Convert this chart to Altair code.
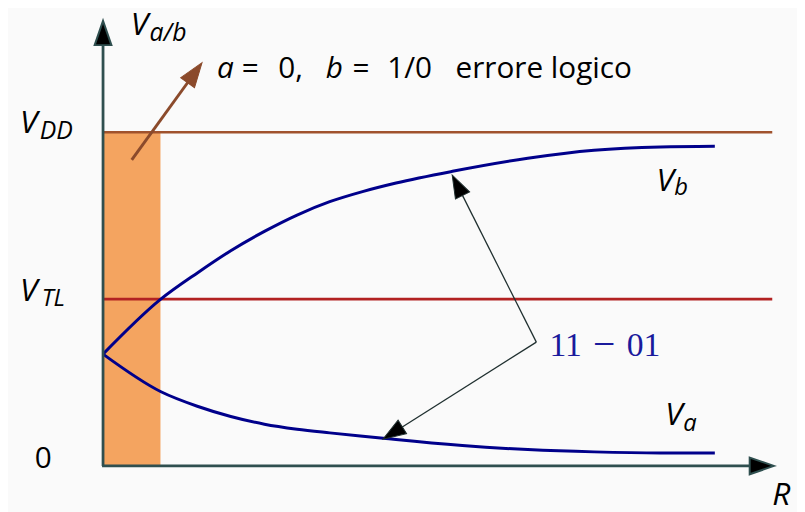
import math
import altair as alt
import pandas as pd

# ---------------- data ----------------
VDD = 1.0
VTL = 0.5
R_TL = 0.58          # R where V_b crosses V_TL (edge of the error band)
R_LINE_END = 6.76    # end of the V_DD / V_TL reference lines

R_b = [0, 0.58, 0.96, 1.29, 1.63, 1.96, 2.29, 2.63, 2.96, 3.53, 4.29, 4.96, 5.63, 6.18]
V_b = [0.335, 0.499, 0.580, 0.645, 0.703, 0.752, 0.792, 0.823, 0.848, 0.883, 0.922, 0.946, 0.956, 0.958]
R_a = [0, 0.58, 0.96, 1.29, 1.63, 1.96, 2.29, 2.83, 2.96, 3.63, 4.29, 4.96, 5.63, 6.18]
V_a = [0.335, 0.223, 0.178, 0.148, 0.125, 0.110, 0.099, 0.083, 0.079, 0.061, 0.049, 0.042, 0.039, 0.039]

# annotation anchors (data units)
ARROW_SRC = (4.377, 0.371)          # where the "11 - 01" arrows start
ARROW_TIP_B = (3.527, 0.872)
ARROW_TIP_A = (2.827, 0.080)
BROWN_SRC = (0.29, 0.917)
BROWN_TIP = (1.00, 1.2086)
Y_AXIS_TOP = 1.334
X_AXIS_END = 6.777

italic_labels = [
    ("V", 0.28, 1.291, 32), ("a/b", 0.47, 1.273, 25),
    ("V", -0.84, 0.997, 32), ("DD", -0.64, 0.979, 25),
    ("V", -0.84, 0.493, 32), ("TL", -0.62, 0.479, 24),
    ("V", 5.59, 0.825, 32), ("b", 5.77, 0.811, 24),
    ("V", 5.68, 0.122, 32), ("a", 5.86, 0.106, 24),
    ("R", 6.76, -0.116, 32),
    ("a", 1.15, 1.163, 30), ("b", 2.25, 1.163, 30),
]
regular_labels = [
    ("0", -0.69, -0.006, 30),
    ("=", 1.40, 1.163, 30), ("0,", 1.77, 1.163, 30),
    ("=", 2.52, 1.163, 30), ("1/0", 2.87, 1.163, 30),
    ("errore logico", 3.56, 1.163, 30),
]
serif_labels = [
    ("11", 4.51, 0.329, 34), ("\u2212", 4.95, 0.325, 40), ("01", 5.29, 0.329, 34),
]

# ---------------- scales ----------------
W, H = 797, 504
XD = [-0.96, 7.01]
YD = [-0.1306, 1.365]
PX = W / (XD[1] - XD[0])
PY = H / (YD[1] - YD[0])
xs = alt.Scale(domain=XD, nice=False, zero=False)
ys = alt.Scale(domain=YD, nice=False, zero=False)


def X(f):
    return alt.X(f, type="quantitative", scale=xs, axis=None)


def Y(f):
    return alt.Y(f, type="quantitative", scale=ys, axis=None)


def angle_of(p0, p1):
    dx = (p1[0] - p0[0]) * PX
    dy = (p1[1] - p0[1]) * PY
    return math.degrees(math.atan2(dx, dy)) % 360


def base_of(p0, p1, length_px):
    dx = (p1[0] - p0[0]) * PX
    dy = (p1[1] - p0[1]) * PY
    L = math.hypot(dx, dy)
    return (p1[0] - dx / L * length_px / PX, p1[1] - dy / L * length_px / PY)


HEAD = "M0,0 L0.69,2 L-0.69,2 Z"

# ---------------- layers ----------------
band = alt.Chart(pd.DataFrame({"x0": [0], "x1": [R_TL], "y0": [0], "y1": [VDD]})).mark_rect(
    color="#f4a460", opacity=1
).encode(x=X("x0"), x2="x1", y=Y("y0"), y2="y1")

vdd = alt.Chart(pd.DataFrame({"x0": [0], "x1": [R_LINE_END], "y": [VDD]})).mark_rule(
    color="#a0522d", strokeWidth=2.6
).encode(x=X("x0"), x2="x1", y=Y("y"))

vtl = alt.Chart(pd.DataFrame({"x0": [0], "x1": [R_LINE_END], "y": [VTL]})).mark_rule(
    color="#b22222", strokeWidth=2.6
).encode(x=X("x0"), x2="x1", y=Y("y"))

curve_b = alt.Chart(pd.DataFrame({"R": R_b, "V": V_b})).mark_line(
    color="#00008b", strokeWidth=3, interpolate="monotone"
).encode(x=X("R"), y=Y("V"))

curve_a = alt.Chart(pd.DataFrame({"R": R_a, "V": V_a})).mark_line(
    color="#00008b", strokeWidth=3, interpolate="monotone"
).encode(x=X("R"), y=Y("V"))

yaxis = alt.Chart(pd.DataFrame({"x": [0], "y0": [0], "y1": [Y_AXIS_TOP - 0.03]})).mark_rule(
    color="#2f4f4f", strokeWidth=2.8
).encode(x=X("x"), y=Y("y0"), y2="y1")

xaxis = alt.Chart(pd.DataFrame({"x0": [-0.01], "x1": [X_AXIS_END - 0.1], "y": [0]})).mark_rule(
    color="#2f4f4f", strokeWidth=2.8
).encode(x=X("x0"), x2="x1", y=Y("y"))

axis_heads = alt.Chart(pd.DataFrame({
    "x": [0, X_AXIS_END], "y": [Y_AXIS_TOP, 0], "ang": [0, 90]
})).mark_point(shape=HEAD, filled=True, fill="#000000", stroke="#2f4f4f",
               strokeWidth=2, size=600, opacity=1).encode(
    x=X("x"), y=Y("y"), angle=alt.Angle("ang", scale=None))

# brown arrow
bb = base_of(BROWN_SRC, BROWN_TIP, 20)
brown_line = alt.Chart(pd.DataFrame({"x0": [BROWN_SRC[0]], "y0": [BROWN_SRC[1]],
                                     "x1": [bb[0]], "y1": [bb[1]]})).mark_rule(
    color="#8b4a2b", strokeWidth=3
).encode(x=X("x0"), y=Y("y0"), x2="x1", y2="y1")
brown_head = alt.Chart(pd.DataFrame({"x": [BROWN_TIP[0]], "y": [BROWN_TIP[1]],
                                     "ang": [angle_of(BROWN_SRC, BROWN_TIP)]})).mark_point(
    shape=HEAD, filled=True, fill="#8b4a2b", stroke="#8b4a2b", strokeWidth=1,
    size=620, opacity=1).encode(x=X("x"), y=Y("y"), angle=alt.Angle("ang", scale=None))

# black arrows from "11 - 01"
tips = [ARROW_TIP_B, ARROW_TIP_A]
bases = [base_of(ARROW_SRC, t, 18) for t in tips]
black_lines = alt.Chart(pd.DataFrame({
    "x0": [ARROW_SRC[0]] * 2, "y0": [ARROW_SRC[1]] * 2,
    "x1": [b[0] for b in bases], "y1": [b[1] for b in bases]})).mark_rule(
    color="#1f2f2f", strokeWidth=1.3
).encode(x=X("x0"), y=Y("y0"), x2="x1", y2="y1")
black_heads = alt.Chart(pd.DataFrame({
    "x": [t[0] for t in tips], "y": [t[1] for t in tips],
    "ang": [angle_of(ARROW_SRC, t) for t in tips]})).mark_point(
    shape=HEAD, filled=True, fill="#000000", stroke="#1f2f2f", strokeWidth=1,
    size=540, opacity=1).encode(x=X("x"), y=Y("y"), angle=alt.Angle("ang", scale=None))


def text_layer(rows, **kw):
    df = pd.DataFrame(rows, columns=["t", "x", "y", "s"])
    return alt.Chart(df).mark_text(align="left", baseline="alphabetic", **kw).encode(
        x=X("x"), y=Y("y"), text="t:N", size=alt.Size("s:Q", scale=None, legend=None))


t_italic = text_layer(italic_labels, font="Open Sans", fontStyle="italic", color="#000000")
t_regular = text_layer(regular_labels, font="Open Sans", color="#000000")
t_serif = text_layer(serif_labels, font="Liberation Serif", color="#1a1a9c")

chart = alt.layer(
    band, vdd, vtl, curve_b, curve_a, yaxis, xaxis, axis_heads,
    brown_line, brown_head, black_lines, black_heads,
    t_italic, t_regular, t_serif,
).properties(width=W, height=H, padding=0, autosize="none", background="#fafafa").configure_view(
    stroke=None
)

chart.save("out.html", embed_options={"renderer": "svg", "actions": False})
